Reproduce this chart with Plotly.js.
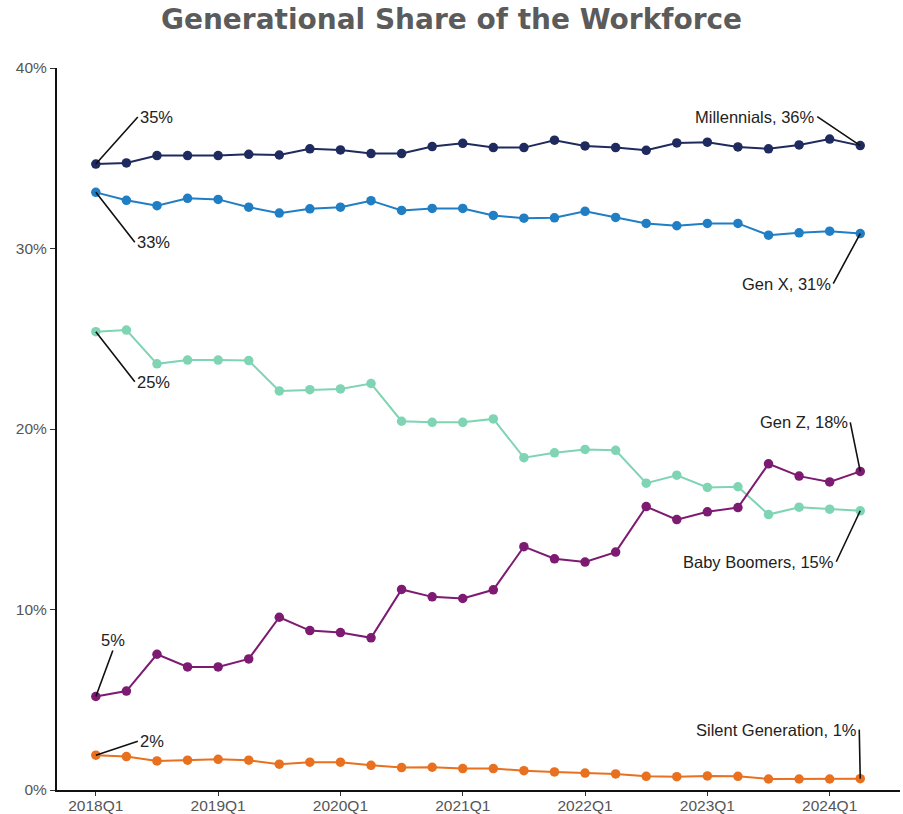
<!DOCTYPE html>
<html>
<head>
<meta charset="utf-8">
<script src="https://cdn.plot.ly/plotly-3.0.1.min.js"></script>
<style>html,body{margin:0;padding:0;background:#fff;}#chart{width:903px;height:814px;}</style>
</head>
<body>
<div id="chart"></div>
<script>
const quarters = ["2018Q1","2018Q2","2018Q3","2018Q4","2019Q1","2019Q2","2019Q3","2019Q4",
  "2020Q1","2020Q2","2020Q3","2020Q4","2021Q1","2021Q2","2021Q3","2021Q4",
  "2022Q1","2022Q2","2022Q3","2022Q4","2023Q1","2023Q2","2023Q3","2023Q4","2024Q1","2024Q2"];
const tickLabels = ["2018Q1","2019Q1","2020Q1","2021Q1","2022Q1","2023Q1","2024Q1"];

const millennials = [34.68,34.74,35.15,35.15,35.15,35.22,35.18,35.52,35.46,35.26,35.26,35.65,
  35.83,35.59,35.59,36.0,35.68,35.59,35.44,35.85,35.89,35.63,35.52,35.74,36.06,35.7];
const genX = [33.11,32.67,32.37,32.78,32.72,32.29,31.96,32.2,32.29,32.65,32.11,32.22,
  32.22,31.83,31.68,31.7,32.06,31.72,31.39,31.26,31.39,31.39,30.74,30.87,30.96,30.83];
const boomers = [25.39,25.48,23.61,23.82,23.82,23.79,22.11,22.18,22.22,22.52,20.43,20.37,
  20.37,20.56,18.41,18.68,18.87,18.82,17.0,17.44,16.76,16.8,15.26,15.67,15.56,15.47];
const genZ = [5.18,5.48,7.52,6.82,6.82,7.26,9.57,8.83,8.72,8.43,11.11,10.7,
  10.61,11.09,13.48,12.81,12.63,13.18,15.7,14.98,15.41,15.65,18.07,17.39,17.07,17.65];
const silent = [1.93,1.85,1.61,1.65,1.70,1.65,1.43,1.54,1.54,1.37,1.24,1.26,
  1.19,1.19,1.07,1.0,0.94,0.89,0.76,0.74,0.78,0.76,0.61,0.61,0.61,0.63];

const seriesNames = ["Millennials","Gen X","Baby Boomers","Gen Z","Silent Generation"];
const seriesData = [millennials, genX, boomers, genZ, silent];
const colors = ["#1f2a5e","#1f7ec4","#7fd4b4","#7d1a72","#e8701e"];

const traces = seriesData.map((ys, i) => ({
  x: quarters, y: ys.map(v => v / 100), name: seriesNames[i], type: "scatter", mode: "lines+markers",
  line: {color: colors[i], width: 2}, marker: {color: colors[i], size: 9.5},
  hoverinfo: "x+y+name"
}));

const last = quarters.length - 1;
const fmt = v => Math.round(v) + "%";
// annotation configs: [seriesIndex, pointIndex, withName, ax, ay, xanchor, yanchor]
const annCfg = [
  [0, 0, false, 42, -47, "left", "middle"],
  [1, 0, false, 39, 50, "left", "middle"],
  [2, 0, false, 39, 50, "left", "middle"],
  [3, 0, false, 17, -46, "center", "bottom"],
  [4, 0, false, 42, -14, "left", "middle"],
  [0, last, true, -43, -29, "right", "middle"],
  [1, last, true, -27, 50, "right", "middle"],
  [3, last, true, -10, -49, "right", "middle"],
  [2, last, true, -24, 51, "right", "middle"],
  [4, last, true, -1, -49, "right", "middle"]
];
const annotations = annCfg.map(c => {
  const v = seriesData[c[0]][c[1]];
  return {
    x: quarters[c[1]], y: v / 100, xref: "x", yref: "y",
    text: (c[2] ? seriesNames[c[0]] + ", " : "") + fmt(v),
    showarrow: true, arrowhead: 0, arrowwidth: 1.6, arrowcolor: "#111",
    ax: c[3], ay: c[4], xanchor: c[5], yanchor: c[6],
    standoff: 0, startstandoff: 0, borderpad: 1,
    font: {family: "Liberation Sans, Arial, sans-serif", size: 16.5, color: "#222"}
  };
});

const tickFont = {family: "Liberation Sans, Arial, sans-serif", size: 15.5, color: "#555"};
const layout = {
  width: 903, height: 814,
  margin: {l: 57, r: 3, t: 68, b: 24},
  paper_bgcolor: "#fff", plot_bgcolor: "#fff",
  showlegend: false,
  title: {text: "<b>Generational Share of the Workforce</b>", x: 0.5, xref: "container", xanchor: "center",
    y: 0.977, yref: "container", yanchor: "middle",
    font: {family: "DejaVu Sans, sans-serif", size: 28, color: "#5b5b5b"}},
  xaxis: {
    type: "category", categoryorder: "array", categoryarray: quarters,
    range: [-1.27, 26.3], tickvals: tickLabels, ticktext: tickLabels,
    showgrid: false, zeroline: false, showline: true, linecolor: "#111", linewidth: 2,
    ticks: "outside", ticklen: 4, tickcolor: "#333", tickwidth: 1,
    ticklabelstandoff: -4,
    tickfont: tickFont
  },
  yaxis: {
    range: [0, 0.40], tickvals: [0, 0.1, 0.2, 0.3, 0.4], tickformat: ".0%",
    showgrid: false, zeroline: false, showline: true, linecolor: "#111", linewidth: 2,
    ticks: "outside", ticklen: 5, tickcolor: "#333", tickwidth: 1,
    tickfont: tickFont
  },
  annotations: annotations
};

Plotly.newPlot("chart", traces, layout, {displayModeBar: false, staticPlot: true});
</script>
</body>
</html>
